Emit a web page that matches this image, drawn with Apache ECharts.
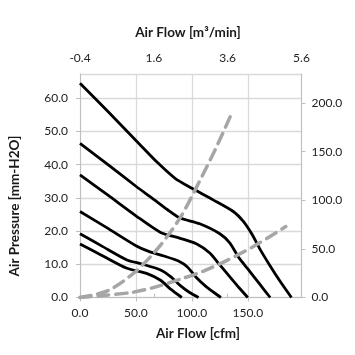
<!DOCTYPE html>
<html>
<head>
<meta charset="utf-8">
<script src="https://cdn.jsdelivr.net/npm/echarts@6/dist/echarts.min.js"></script>
<style>html,body{margin:0;padding:0;background:#fff}#c{width:355px;height:355px}</style>
</head>
<body>
<div id="c"></div>
<script>
// Fan curves: [airflow cfm, pressure mm-H2O]
const curve1 = [[0,64.5],[25,56],[50,47.3],[70,40.4],[85,35.9],[100,32.9],[119,29.4],[137,25.9],[146,22.9],[154,18.9],[161,14.5],[170,9.5],[179,4.8],[189,0]];
const curve2 = [[0,46.4],[25,40],[50,33.5],[65,29.8],[78,26.5],[89,24],[107,22.2],[125,19.2],[134,16.4],[142,12.0],[150,8.6],[160,4.3],[170,0]];
const curve3 = [[0,36.9],[25,30.8],[50,24.6],[72,19.6],[89,17.9],[104,16.2],[116,13.4],[125,9.8],[134,6.2],[142,3],[150,0]];
const curve4 = [[0,25.9],[25,20.8],[50,15.6],[62,13.8],[75,12.5],[88,11],[96,9.2],[104,6],[113,3.2],[126,0]];
const curve5 = [[0,19.2],[20,15.4],[42,11.3],[54,10.2],[72,8.3],[81,6.3],[90,3.5],[98,1.5],[106,0]];
const curve6 = [[0,16.1],[20,12.6],[42,8.8],[60,7.2],[72,5.2],[81,2.5],[91,0]];
// System impedance curves (secondary axis): [airflow cfm, value]
const systemHigh = [[0,0],[25,7],[50,27],[72,54],[90,83],[107,120],[122,155],[135,188]];
const systemLow = [[0,0],[20,2],[45,5],[65,10],[90,19],[110,27],[131,38],[155,52.5],[184,73]];
// Top axis tick labels (m³/min)
const topTickLabels = ['-0.4','1.6','3.6','5.6'];

const FONT = 'Lato';
const labelStyle = {color:'#222', fontFamily:FONT, fontSize:12};
const gray = '#BFBFBF';
const grid = '#D9D9D9';

const chart = echarts.init(document.getElementById('c'), null, {renderer:'canvas'});
const fanCurves = [curve1,curve2,curve3,curve4,curve5,curve6];
const series = fanCurves.map(d => ({
  type:'line', data:d, xAxisIndex:0, yAxisIndex:0, showSymbol:false, symbol:'none',
  smooth:0.25,
  lineStyle:{color:'#000', width:2.8}, z:2
}));
[systemHigh, systemLow].forEach(d => series.push({
  type:'line', data:d, xAxisIndex:0, yAxisIndex:1, showSymbol:false, symbol:'none',
  smooth:0.3,
  lineStyle:{color:'#A6A6A6', width:3.5, type:[11,7], cap:'round'}, z:3
}));

chart.setOption({
  animation:false,
  grid:{left:80, right:53.5, top:74, bottom:57.5},
  xAxis:[
    {type:'value', position:'bottom', min:0, max:198, interval:50,
     axisLine:{show:true, lineStyle:{color:gray}},
     axisTick:{show:true, inside:false, length:4, lineStyle:{color:gray}},
     splitLine:{show:true, lineStyle:{color:grid, width:1.3}},
     axisLabel:{...labelStyle, margin:10, showMaxLabel:false, formatter:v=>v.toFixed(1)}},
    {type:'category', position:'top', data:topTickLabels, boundaryGap:false,
     axisLine:{show:true, lineStyle:{color:gray}},
     axisTick:{show:true, inside:false, length:4, lineStyle:{color:gray}},
     splitLine:{show:false},
     axisLabel:{...labelStyle, margin:10}}
  ],
  yAxis:[
    {type:'value', position:'left', min:0, max:67.3, interval:10,
     axisLine:{show:true, lineStyle:{color:gray}},
     axisTick:{show:true, inside:false, length:4, lineStyle:{color:gray}},
     splitLine:{show:true, lineStyle:{color:grid, width:1.3}},
     axisLabel:{...labelStyle, margin:12, showMaxLabel:false, formatter:v=>v.toFixed(1)}},
    {type:'value', position:'right', min:0, max:230, interval:50,
     axisLine:{show:true, lineStyle:{color:gray}},
     axisTick:{show:true, inside:false, length:4, lineStyle:{color:gray}},
     splitLine:{show:false},
     axisLabel:{...labelStyle, margin:10, showMaxLabel:false, formatter:v=>v.toFixed(1)}}
  ],
  graphic:[
    {type:'text', x:188, y:33, style:{text:'Air Flow [m³/min]', align:'center', verticalAlign:'middle', fill:'#1a1a1a', font:'bold 13.5px Lato'}},
    {type:'text', x:198, y:334, style:{text:'Air Flow [cfm]', align:'center', verticalAlign:'middle', fill:'#1a1a1a', font:'bold 13.5px Lato'}},
    {type:'text', x:15, y:206, rotation:Math.PI/2, style:{text:'Air Pressure [mm-H2O]', align:'center', verticalAlign:'middle', fill:'#1a1a1a', font:'bold 13.5px Lato'}}
  ],
  series:series
});
</script>
</body>
</html>
